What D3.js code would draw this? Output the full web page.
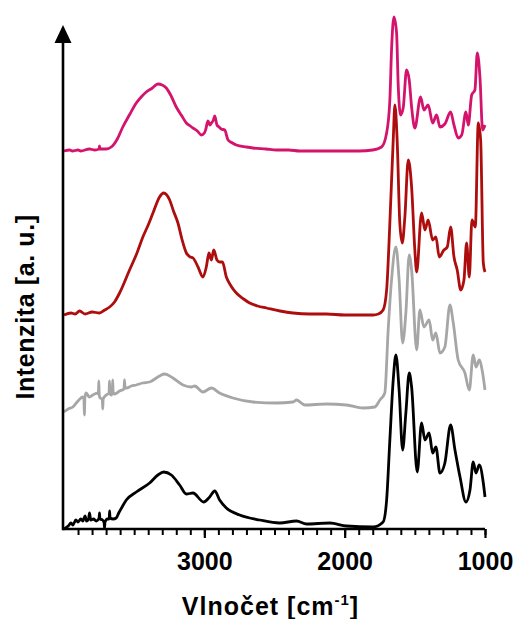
<!DOCTYPE html>
<html>
<head>
<meta charset="utf-8">
<script src="https://cdn.jsdelivr.net/npm/d3@7"></script>
<style>
  body { margin: 0; background: #fff; }
  text { font-family: "Liberation Sans", Arial, sans-serif; font-weight: bold; }
</style>
</head>
<body>
<div id="ir-graph"></div>
<script>
// spectra: [wavenumber cm-1, intensity a.u.] (offsets already included)
var spectrumPink = [
	[4000,37.8],[3960,37.9],[3940,37.8],[3900,37.9],[3880,37.8],[3820,38.0],[3780,37.9],[3750,38.0],
	[3747,38.3],[3744,38.0],[3700,38.0],[3663,38.2],
	[3620,39.0],[3581,40.2],[3530,41.5],[3485,42.6],[3450,43.2],[3414,43.7],[3370,44.1],[3331,44.5],
	[3300,44.4],[3271,44.1],[3240,43.4],[3200,42.2],[3160,41.3],[3128,40.6],[3100,40.3],[3081,40.1],
	[3050,39.8],[3021,39.4],[3000,39.6],[2991,39.9],[2974,40.8],[2960,40.4],[2950,40.6],[2935,40.9],
	[2926,41.3],[2910,40.4],[2895,40.2],[2879,40.0],[2855,39.9],[2831,38.9],[2800,38.6],[2772,38.4],
	[2700,38.2],[2653,38.1],[2560,38.0],[2486,37.9],[2400,37.9],[2320,37.8],[2249,37.8],[2150,37.8],
	[2060,37.8],[2011,37.8],[1900,37.8],[1800,37.9],[1737,38.2],[1701,39.6],[1678,42.9],[1666,47.9],
	[1649,51.2],[1630,49.6],[1619,44.6],[1602,41.4],[1583,42.1],[1559,45.9],[1540,44.9],[1523,42.2],
	[1500,40.1],[1459,43.2],[1435,41.9],[1405,42.4],[1373,40.6],[1345,41.4],[1321,40.2],[1286,40.5],
	[1245,41.7],[1221,40.4],[1191,39.1],[1166,39.4],[1136,41.7],[1119,40.4],[1095,43.4],[1072,43.9],
	[1055,47.6],[1036,45.2],[1017,39.9],[1000,40.4]
];

var spectrumRed = [
	[4000,21.4],[3950,21.6],[3920,21.5],[3889,21.8],[3850,21.5],[3800,21.7],[3747,21.6],[3710,21.9],[3675,22.2],
	[3640,22.7],[3604,23.6],[3533,25.9],[3480,27.6],[3438,29.2],[3400,30.4],[3366,31.6],[3319,33.2],
	[3290,33.6],[3247,32.9],[3220,31.8],[3188,30.6],[3160,29.0],[3128,27.6],[3100,27.2],[3081,27.1],
	[3045,26.2],[3010,25.2],[2986,26.2],[2967,27.6],[2950,26.9],[2933,27.9],[2910,26.9],[2891,26.7],
	[2871,26.7],[2843,25.2],[2810,24.3],[2772,23.6],[2720,23.0],[2677,22.6],[2620,22.3],[2557,22.1],
	[2460,21.8],[2368,21.6],[2250,21.5],[2129,21.5],[2000,21.4],[1900,21.4],[1797,21.4],[1760,21.5],
	[1726,21.9],[1701,23.9],[1678,30.6],[1654,38.9],[1642,42.4],[1626,38.9],[1607,30.6],[1590,28.6],
	[1571,31.2],[1547,36.9],[1523,34.2],[1500,27.9],[1487,25.7],[1452,31.6],[1428,29.9],[1405,30.9],
	[1373,28.9],[1350,29.2],[1326,27.2],[1293,27.9],[1269,28.2],[1245,30.2],[1221,27.2],[1198,25.9],
	[1173,23.9],[1150,24.9],[1131,28.6],[1112,25.2],[1093,30.9],[1069,30.2],[1048,40.6],[1031,38.9],
	[1012,26.6],[1000,25.7]
];

var spectrumGray = [
	[4000,11.7],[3970,12.0],[3937,12.2],[3900,12.8],[3866,13.2],[3858,13.0],[3855,11.4],[3851,13.2],
	[3842,13.6],[3820,13.2],[3795,13.4],[3760,13.6],[3755,13.5],[3752,14.8],[3749,13.4],[3742,13.1],
	[3727,13.0],[3724,12.0],[3721,13.0],[3699,13.4],[3679,13.6],[3676,14.8],[3673,13.6],[3663,13.4],
	[3656,13.6],[3653,14.9],[3650,13.7],[3640,13.5],[3604,13.8],[3572,14.0],[3569,14.9],[3565,14.1],
	[3556,14.1],[3520,14.3],[3485,14.4],[3440,14.6],[3390,14.7],[3319,15.3],[3283,15.5],[3224,15.1],
	[3152,14.4],[3093,14.2],[3069,14.3],[3010,13.7],[2950,14.1],[2891,13.6],[2796,13.1],[2653,12.7],
	[2486,12.6],[2368,12.7],[2343,12.9],[2284,12.4],[2129,12.5],[1987,12.4],[1868,12.1],[1785,12.2],
	[1749,12.9],[1714,13.6],[1690,19.9],[1666,24.9],[1635,28.2],[1612,24.9],[1587,18.6],[1564,21.6],
	[1540,27.4],[1523,25.9],[1487,17.9],[1464,21.9],[1435,20.2],[1398,20.9],[1373,18.9],[1350,19.6],
	[1321,17.6],[1286,18.2],[1250,22.4],[1226,20.6],[1191,16.9],[1143,15.6],[1112,13.9],[1084,17.4],
	[1064,16.2],[1041,16.9],[1017,15.6],[1000,13.9]
];

var spectrumBlack = [
	[4000,0.0],[3970,0.3],[3950,0.6],[3937,0.4],[3915,0.9],[3900,0.7],[3880,1.0],[3866,0.8],
	[3850,1.3],[3840,0.8],[3825,1.0],[3818,1.6],[3810,0.9],[3790,1.0],[3770,0.8],[3750,1.1],
	[3747,1.6],[3744,1.0],[3725,0.9],[3714,0.6],[3711,0.1],[3708,0.7],[3690,1.0],[3678,1.0],
	[3675,1.8],[3672,1.1],[3650,1.0],[3628,1.1],[3610,1.6],[3590,2.1],[3556,2.9],[3485,3.7],
	[3390,4.6],[3331,5.4],[3290,5.7],[3235,5.4],[3176,4.4],[3128,3.5],[3081,3.6],[3005,2.7],
	[2962,3.2],[2926,3.8],[2891,2.9],[2843,2.1],[2748,1.4],[2605,0.9],[2463,0.6],[2343,0.8],
	[2272,0.5],[2106,0.6],[1987,0.3],[1797,0.2],[1726,0.7],[1701,2.9],[1678,8.9],[1654,14.9],
	[1635,17.4],[1612,13.9],[1587,7.9],[1564,11.6],[1540,15.6],[1523,14.2],[1483,5.7],[1452,10.6],
	[1428,8.9],[1398,9.6],[1373,7.6],[1350,8.2],[1321,5.6],[1286,6.6],[1245,10.4],[1214,7.9],
	[1178,5.2],[1136,2.7],[1107,3.9],[1084,6.7],[1064,5.6],[1041,6.4],[1012,4.6],[1000,3.2]
];

var seriesList = [spectrumBlack, spectrumGray, spectrumRed, spectrumPink];
var seriesColors = ["#000000", "#a6a6a6", "#ad0d0d", "#d4136d"];

var majorTicks = [3000, 2000, 1000];
var xLabel = "Vlnočet [cm";
var xLabelSup = "-1";
var yLabel = "Intenzita [a. u.]";

// set the dimensions and margins of the graph
var margin = {top: 25, right: 31, bottom: 90, left: 64},
	width = 516 - margin.left - margin.right,
	height = 619 - margin.top - margin.bottom;

var svg = d3.select("#ir-graph")
	.append("svg")
	.attr("width", width + margin.left + margin.right)
	.attr("height", height + margin.top + margin.bottom)
	.append("g")
	.attr("transform", "translate(" + margin.left + "," + margin.top + ")");

var x = d3.scaleLinear()
	.domain([4000, 1000])
	.range([0, width]);

var y = d3.scaleLinear()
	.domain([0, 50.4])
	.range([height, 0]);

// spectra
var line = d3.line()
	.x(d => x(d[0]))
	.y(d => y(d[1]))
	.curve(d3.curveMonotoneX);

svg.append("g")
	.selectAll("path")
	.data(seriesList)
	.enter()
	.append("path")
	.attr("d", line)
	.attr("fill", "none")
	.attr("stroke", (d,i) => seriesColors[i])
	.attr("stroke-width", 2.8)
	.attr("stroke-linejoin", "round");

// minor ticks every 100
svg.append("g")
	.attr("transform", "translate(0," + height + ")")
	.call(d3.axisBottom(x)
		.tickValues(d3.range(3900, 999, -100))
		.tickSize(6)
		.tickFormat(""))
	.call(g => g.select(".domain").remove())
	.selectAll("line")
	.attr("stroke-width", 2);

// major ticks + labels
var xAxis = svg.append("g")
	.attr("transform", "translate(0," + height + ")")
	.call(d3.axisBottom(x)
		.tickValues(majorTicks)
		.tickSize(9)
		.tickPadding(14)
		.tickFormat(d3.format("d")));
xAxis.select(".domain").remove();
xAxis.selectAll("line").attr("stroke-width", 2.2);
xAxis.selectAll("text")
	.attr("font-size", "25px")
	.attr("font-family", "Liberation Sans, Arial, sans-serif")
	.attr("font-weight", "bold")
	.attr("fill", "#000");

// axis lines
svg.append("line")
	.attr("x1", -1).attr("x2", width)
	.attr("y1", height).attr("y2", height)
	.attr("stroke", "#000")
	.attr("stroke-width", 2.6);

svg.append("line")
	.attr("x1", -1).attr("x2", -1)
	.attr("y1", height + 1.3).attr("y2", 14)
	.attr("stroke", "#000")
	.attr("stroke-width", 2.6);

// arrow head
svg.append("path")
	.attr("d", "M-1,0 L-9.5,18 L7.5,18 Z")
	.attr("fill", "#000");

// labels
var xl = svg.append("text")
	.attr("x", width / 2 - 4)
	.attr("y", height + 86)
	.attr("text-anchor", "middle")
	.attr("font-size", "25px")
	.attr("letter-spacing", "1px")
	.attr("fill", "#000");
xl.append("tspan").text(xLabel);
xl.append("tspan")
	.attr("dy", "-10")
	.attr("font-size", "15px")
	.text(xLabelSup);
xl.append("tspan")
	.attr("dy", "10")
	.text("]");

svg.append("text")
	.attr("transform", "translate(-30," + (height / 2 + 30) + ")rotate(-90)")
	.attr("text-anchor", "middle")
	.attr("font-size", "25px")
	.attr("letter-spacing", "0.6px")
	.attr("fill", "#000")
	.text(yLabel);
</script>
</body>
</html>
